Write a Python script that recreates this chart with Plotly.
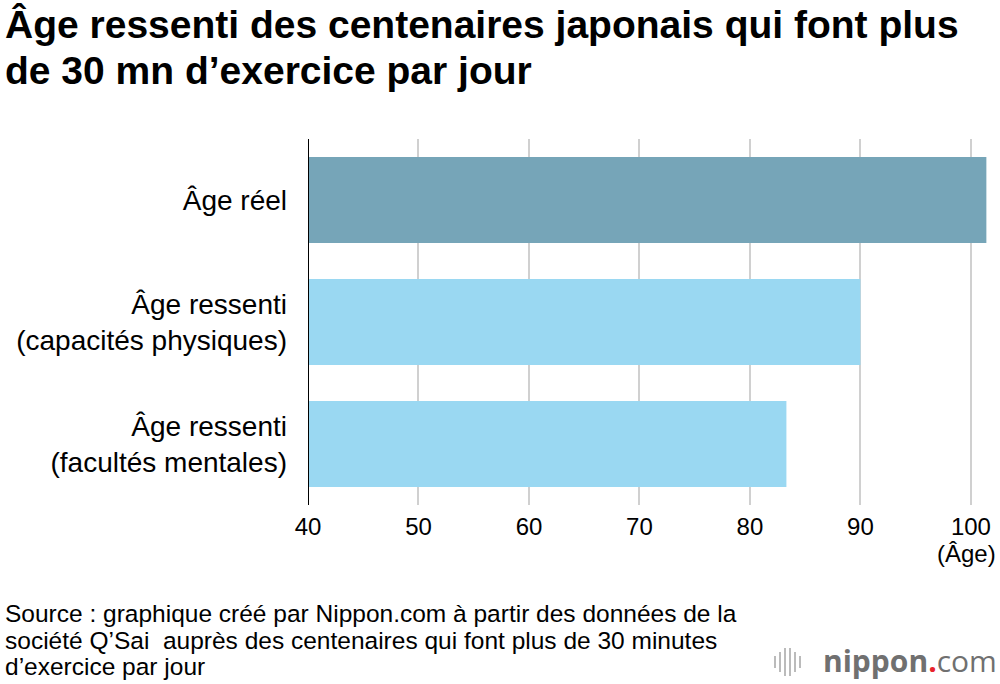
import plotly.graph_objects as go

categories = ["Âge réel", "Âge ressenti<br>(capacités physiques)", "Âge ressenti<br>(facultés mentales)"]
values = [101.4, 90.0, 83.3]
colors = ["#76A5B8", "#9AD8F2", "#9AD8F2"]
tick_vals = [40, 50, 60, 70, 80, 90, 100]
title_lines = ["Âge ressenti des centenaires japonais qui font plus", "de 30 mn d’exercice par jour"]
source_lines = ["Source : graphique créé par Nippon.com à partir des données de la",
                "société Q’Sai  auprès des centenaires qui font plus de 30 minutes",
                "d’exercice par jour"]

W, H = 1000, 684
L, R, T, B = 308, 7, 139, 684 - 505
pw = W - L - R
ph = H - T - B
FONT = "Liberation Sans, Arial, Helvetica, sans-serif"


def px(x):
    return (x - L) / pw


def py(y):
    return 1 - (y - T) / ph


fig = go.Figure(go.Bar(
    y=categories, x=values, orientation="h",
    marker=dict(color=colors, line=dict(width=0)),
    base=0,
))

fig.update_layout(
    width=W, height=H,
    margin=dict(l=L, r=R, t=T, b=B, pad=0),
    paper_bgcolor="white", plot_bgcolor="white",
    font=dict(family=FONT, color="black"),
    bargap=0.295,
    showlegend=False,
    xaxis=dict(range=[40, 102], tickvals=tick_vals, showgrid=True, gridcolor="#D0D0D0",
               gridwidth=2, zeroline=False, showline=False, ticks="",
               tickfont=dict(size=24), ticklabelstandoff=5, layer="below traces"),
    yaxis=dict(autorange="reversed", showgrid=False, zeroline=False, showline=False,
               ticks="", tickfont=dict(size=28), ticklabelstandoff=20),
)

# axis line at x=40
fig.add_shape(type="line", xref="x", yref="paper", x0=40, x1=40, y0=0, y1=1,
              line=dict(color="black", width=2))

for line, yb in zip(title_lines, [24, 70]):
    fig.add_annotation(text="<b>" + line + "</b>", xref="paper", yref="paper",
                       x=px(3), y=py(yb), xanchor="left", yanchor="middle",
                       showarrow=False, font=dict(size=39, color="black"))

fig.add_annotation(text="(Âge)", xref="paper", yref="paper",
                   x=px(998), y=py(553), xanchor="right", yanchor="middle",
                   showarrow=False, font=dict(size=24))

for line, yc in zip(source_lines, [613, 640, 666]):
    fig.add_annotation(text=line, xref="paper", yref="paper",
                       x=px(3), y=py(yc), xanchor="left", yanchor="middle",
                       showarrow=False, font=dict(size=24.5, color="black"))

fig.add_annotation(text="<b>nippon</b><span style='color:#E8232B'><b>.</b></span>com",
                   xref="paper", yref="paper", x=px(999), y=py(660),
                   xanchor="right", yanchor="middle", showarrow=False,
                   font=dict(size=30, color="#707070", family="Open Sans, DejaVu Sans, sans-serif"))

# logo icon
bars = [(775, 6), (780, 10), (785, 14), (790, 14), (795, 10), (800, 6)]
for x, h in bars:
    fig.add_shape(type="line", xref="paper", yref="paper",
                  x0=px(x), x1=px(x), y0=py(662 - h), y1=py(662 + h),
                  line=dict(color="#BBBBBB", width=2))

fig.write_html("out.html", config={"displayModeBar": False},
               post_script="document.body.style.margin='0';document.body.style.overflow='hidden';")
